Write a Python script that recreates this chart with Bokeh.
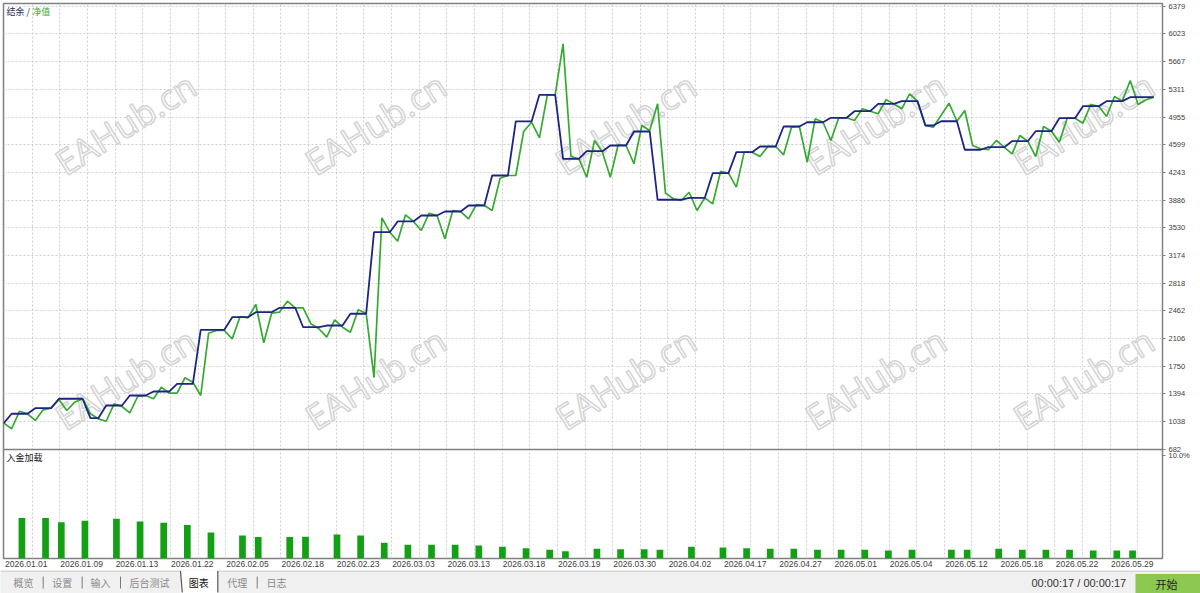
from bokeh.plotting import figure
from bokeh.models import (Range1d, FixedTicker, CustomJSTickFormatter, Span, Label,
                          ColumnDataSource)
from bokeh.layouts import column
from bokeh.transform import dodge
from bokeh.embed import file_html
from bokeh.resources import INLINE
from bokeh.core.properties import value

# ---------------- data ----------------
balance = [
    1018, 1139, 1139, 1139, 1211, 1211, 1211, 1332, 1332, 1332,
    1332, 1082, 1082, 1245, 1245, 1245, 1374, 1374, 1374, 1425,
    1425, 1425, 1524, 1524, 1524, 2219, 2219, 2219, 2219, 2381,
    2381, 2381, 2445, 2445, 2445, 2502, 2502, 2502, 2252, 2252,
    2252, 2274, 2274, 2274, 2425, 2425, 2425, 3474, 3474, 3474,
    3612, 3612, 3612, 3689, 3689, 3689, 3740, 3740, 3740, 3817,
    3817, 3817, 4203, 4203, 4203, 4898, 4898, 4898, 5241, 5241,
    5241, 4418, 4418, 4418, 4516, 4516, 4516, 4589, 4589, 4589,
    4769, 4769, 4769, 3891, 3891, 3891, 3891, 3916, 3916, 3916,
    4233, 4233, 4233, 4503, 4503, 4503, 4576, 4576, 4576, 4833,
    4833, 4833, 4888, 4888, 4888, 4945, 4945, 4945, 5030, 5030,
    5030, 5125, 5125, 5125, 5159, 5159, 5159, 4846, 4846, 4901,
    4901, 4901, 4534, 4534, 4534, 4567, 4567, 4567, 4644, 4644,
    4644, 4773, 4773, 4773, 4940, 4940, 4940, 5094, 5094, 5094,
    5159, 5159, 5159, 5210, 5210, 5210, 5210,
]
equity = [
    1018, 946, 1172, 1139, 1053, 1190, 1211, 1323, 1181, 1288,
    1332, 1139, 1074, 1043, 1267, 1232, 1151, 1361, 1374, 1332,
    1481, 1404, 1404, 1602, 1545, 1374, 2175, 2210, 2210, 2103,
    2390, 2373, 2544, 2052, 2432, 2445, 2587, 2502, 2502, 2296,
    2232, 2124, 2347, 2252, 2188, 2476, 2432, 1605, 3659, 3474,
    3358, 3698, 3612, 3496, 3718, 3689, 3389, 3753, 3740, 3646,
    3830, 3817, 3753, 4168, 4203, 4203, 4769, 4888, 4688, 5241,
    5241, 5897, 4447, 4418, 4181, 4653, 4503, 4181, 4598, 4589,
    4354, 4846, 4782, 5125, 3976, 3904, 3882, 3988, 3753, 3916,
    3839, 4258, 4233, 4053, 4503, 4503, 4447, 4576, 4576, 4469,
    4824, 4833, 4374, 4932, 4888, 4653, 4945, 4945, 4910, 5061,
    5030, 4997, 5177, 5125, 5061, 5254, 5159, 4846, 4824, 4979,
    5133, 4901, 5039, 4589, 4547, 4534, 4653, 4567, 4482, 4718,
    4644, 4447, 4833, 4773, 4631, 4940, 4940, 4876, 5116, 5094,
    4962, 5219, 5159, 5425, 5116, 5177, 5210,
]
load_deal = [2, 5, 7, 10, 14, 17, 20, 23, 26, 30, 32, 36, 38, 42, 45, 48,
             51, 54, 57, 60, 63, 66, 69, 71, 75, 78, 81, 83, 87, 91, 94, 97,
             100, 103, 106, 109, 112, 115, 120, 122, 126, 129, 132, 135, 138, 141, 143]
load_pct = [3.94, 3.94, 3.55, 3.69, 3.88, 3.62, 3.50, 3.26, 2.55, 2.26, 2.10, 2.10, 2.14, 2.36, 2.26, 1.55,
            1.36, 1.36, 1.36, 1.29, 1.17, 1.03, 0.87, 0.74, 0.97, 0.93, 0.93, 0.87, 1.17, 1.10, 1.03, 0.97,
            0.97, 0.87, 0.87, 0.87, 0.81, 0.87, 0.87, 0.87, 0.97, 0.87, 0.87, 0.87, 0.81, 0.81, 0.81]
value_ticks = [682, 1038, 1394, 1750, 2106, 2462, 2818, 3174, 3530, 3886,
               4243, 4599, 4955, 5311, 5667, 6023, 6379]
pct_ticks = [10.0, 0.0]
pct_tick_labels = ["10.0%", "0.0%"]
date_labels = ["2026.01.01", "2026.01.09", "2026.01.13", "2026.01.22", "2026.02.05",
               "2026.02.18", "2026.02.23", "2026.03.03", "2026.03.13", "2026.03.18",
               "2026.03.19", "2026.03.30", "2026.04.02", "2026.04.17", "2026.04.27",
               "2026.05.01", "2026.05.04", "2026.05.12", "2026.05.18", "2026.05.22",
               "2026.05.29"]
title_balance = "结余 /"
title_equity = "净值"
title_load = "入金加载"
tab_labels = ["概览", "设置", "输入", "后台测试", "图表", "代理", "日志"]
selected_tab = "图表"
timer_text = "00:00:17 / 00:00:17"
button_text = "开始"
watermark = "EAHub.cn"

# ---------------- layout calibration (reference pixel geometry) ----------------
X0_PX, DX_PX = 3.3, 7.877          # deal 0 position and spacing


def x_of(px):
    return (px - X0_PX) / DX_PX


VAL_PER_PX = (6379 - 682) / 443.0


def v_of(py):
    return 6379 - (py - 5.8) * VAL_PER_PX


def pct_of(py):
    return (558.3 - py) / 10.33


FONT = "Liberation Sans"
CJK = "Noto Sans CJK SC"
NAVY = "#1c2584"
GREEN = "#35aa30"
BAR = "#14a014"
BORDER = "#808080"

# ---------------- main chart (balance/equity + load panel) ----------------
p = figure(width=1200, height=570,
           x_range=Range1d(x_of(3), x_of(1162)),
           y_range=Range1d(v_of(558), v_of(3)),
           y_axis_location="right", x_axis_location="below",
           output_backend="svg", toolbar_location=None,
           min_border_left=3, min_border_top=3, min_border_right=38, min_border_bottom=12,
           background_fill_color="white", border_fill_color="white",
           outline_line_color=BORDER, outline_line_width=1.5)
p.frame_align = False
p.extra_y_ranges = {"pct": Range1d(pct_of(558), pct_of(3))}

# grids
p.xgrid.ticker = FixedTicker(ticks=[x_of(31.7 + 27.64 * k) for k in range(41)])
p.ygrid.ticker = FixedTicker(ticks=value_ticks)
for g in (p.xgrid, p.ygrid):
    g.grid_line_color = "#cfcfcf"
    g.grid_line_dash = "2 2"
    g.grid_line_width = 1

# watermarks (under the data)
for cy in (123, 378):
    for cx in (125, 375, 625, 875, 1083):
        p.add_layout(Label(x=x_of(cx), y=v_of(cy), text=watermark, angle=0.56,
                           text_align="center", text_baseline="middle",
                           text_font="Open Sans", text_font_size="35px",
                           text_color="white", text_alpha=1.0,
                           text_outline_color="#d4d4d4", level="underlay"))

# right axis: values for the top panel, percentages for the load panel
pct_positions = [v_of(558.3 - tk * 10.33) for tk in pct_ticks]
ya = p.yaxis[0]
ya.ticker = FixedTicker(ticks=value_ticks + pct_positions)
ya.formatter = CustomJSTickFormatter(
    args=dict(pp=pct_positions, pl=pct_tick_labels),
    code="""
    for (let i = 0; i < pp.length; i++) { if (Math.abs(tick - pp[i]) < 0.5) return pl[i]; }
    return tick.toFixed(0);
    """)
ya.axis_line_color = None
ya.major_tick_out = 3
ya.major_tick_in = 0
ya.minor_tick_line_color = None
ya.major_tick_line_color = BORDER
ya.major_label_standoff = 3
ya.major_label_text_font = FONT
ya.major_label_text_font_size = "7.5px"
ya.major_label_text_color = "#404040"

xa = p.xaxis[0]
xa.ticker = FixedTicker(ticks=[x_of(25.8 + 55.3 * k) for k in range(len(date_labels))])
xa.formatter = CustomJSTickFormatter(
    args=dict(labels=date_labels, start=x_of(25.8), step=55.3 / DX_PX),
    code="""
    const i = Math.round((tick - start) / step);
    return (i >= 0 && i < labels.length) ? labels[i] : "";
    """)
xa.axis_line_color = None
xa.major_tick_out = 0
xa.major_tick_in = 0
xa.minor_tick_line_color = None
xa.major_label_standoff = 2
xa.major_label_text_font = FONT
xa.major_label_text_font_size = "8.5px"
xa.major_label_text_color = "#404040"

# series
src = ColumnDataSource(dict(deal=list(range(len(equity))), equity=equity))
bsrc = ColumnDataSource(dict(deal=list(range(len(balance))), balance=balance))
p.line(x="deal", y="equity", source=src, line_color=GREEN, line_width=1.7)
p.line(x="deal", y="balance", source=bsrc, line_color=NAVY, line_width=1.8)

lsrc = ColumnDataSource(dict(deal=load_deal, pct=load_pct))
p.vbar(x=dodge("deal", 0.3, range=p.x_range), top="pct", bottom=0, width=0.85,
       source=lsrc, y_range_name="pct", fill_color=BAR, line_color=None)

# panel divider
p.add_layout(Span(location=v_of(449), dimension="width",
                  line_color=BORDER, line_width=1.5))

# panel titles
p.add_layout(Label(x=x_of(6), y=v_of(10.5), text=title_balance, text_baseline="middle",
                   text_font=CJK, text_font_size="9px", text_color="#2b2b5e"))
p.add_layout(Label(x=x_of(31.7), y=v_of(10.5), text=title_equity, text_baseline="middle",
                   text_font=CJK, text_font_size="9px", text_color=GREEN))
p.add_layout(Label(x=x_of(6), y=v_of(457), text=title_load, text_baseline="middle",
                   text_font=CJK, text_font_size="9px", text_color="#202020"))

# ---------------- bottom tab bar ----------------
t = figure(width=1200, height=23, x_range=Range1d(0, 1200), y_range=Range1d(593, 570),
           output_backend="svg", toolbar_location=None,
           x_axis_location=None, y_axis_location=None,
           min_border=0, background_fill_color="#f0f0f0", border_fill_color="#f0f0f0",
           outline_line_color=None)
t.frame_align = False
t.xgrid.visible = False
t.ygrid.visible = False

t.segment(x0=[0, 217.3], y0=[570.6, 570.6], x1=[180, 1200], y1=[570.6, 570.6],
          line_color="#c4c4c4", line_width=1)
t.quad(left=[180], right=[217.3], top=[570], bottom=[592.5],
       fill_color="white", line_color=None)
t.segment(x0=[180, 217.3], y0=[570.5, 570.5], x1=[181.8, 217.3], y1=[592, 592],
          line_color="#555555", line_width=1.2)
t.segment(x0=[42.7, 81.7, 120, 256.7], y0=[576] * 4, x1=[42.7, 81.7, 120, 256.7], y1=[588] * 4,
          line_color="#7a7a7a", line_width=1)

tab_x = [23, 61.7, 100, 149, 198.3, 236.7, 276]
tab_colors = ["#111111" if s == selected_tab else "#8a8a8a" for s in tab_labels]
t.text(x=tab_x, y=[581.5] * len(tab_labels), text=tab_labels, text_color=tab_colors,
       text_align="center", text_baseline="middle",
       text_font=value(CJK), text_font_size="10px")

t.text(x=[1078.3], y=[582.5], text=[timer_text], text_align="center", text_baseline="middle",
       text_font=value(FONT), text_font_size="11px", text_color="#333333")
t.quad(left=[1135], right=[1200], top=[573.5], bottom=[592.5],
       fill_color="#8cc850", line_color=None)
t.text(x=[1166], y=[583], text=[button_text], text_align="center", text_baseline="middle",
       text_font=value(CJK), text_font_size="11px", text_color="#222222")

layout = column(p, t, spacing=0)
open("out.html", "w").write(file_html(layout, INLINE))
